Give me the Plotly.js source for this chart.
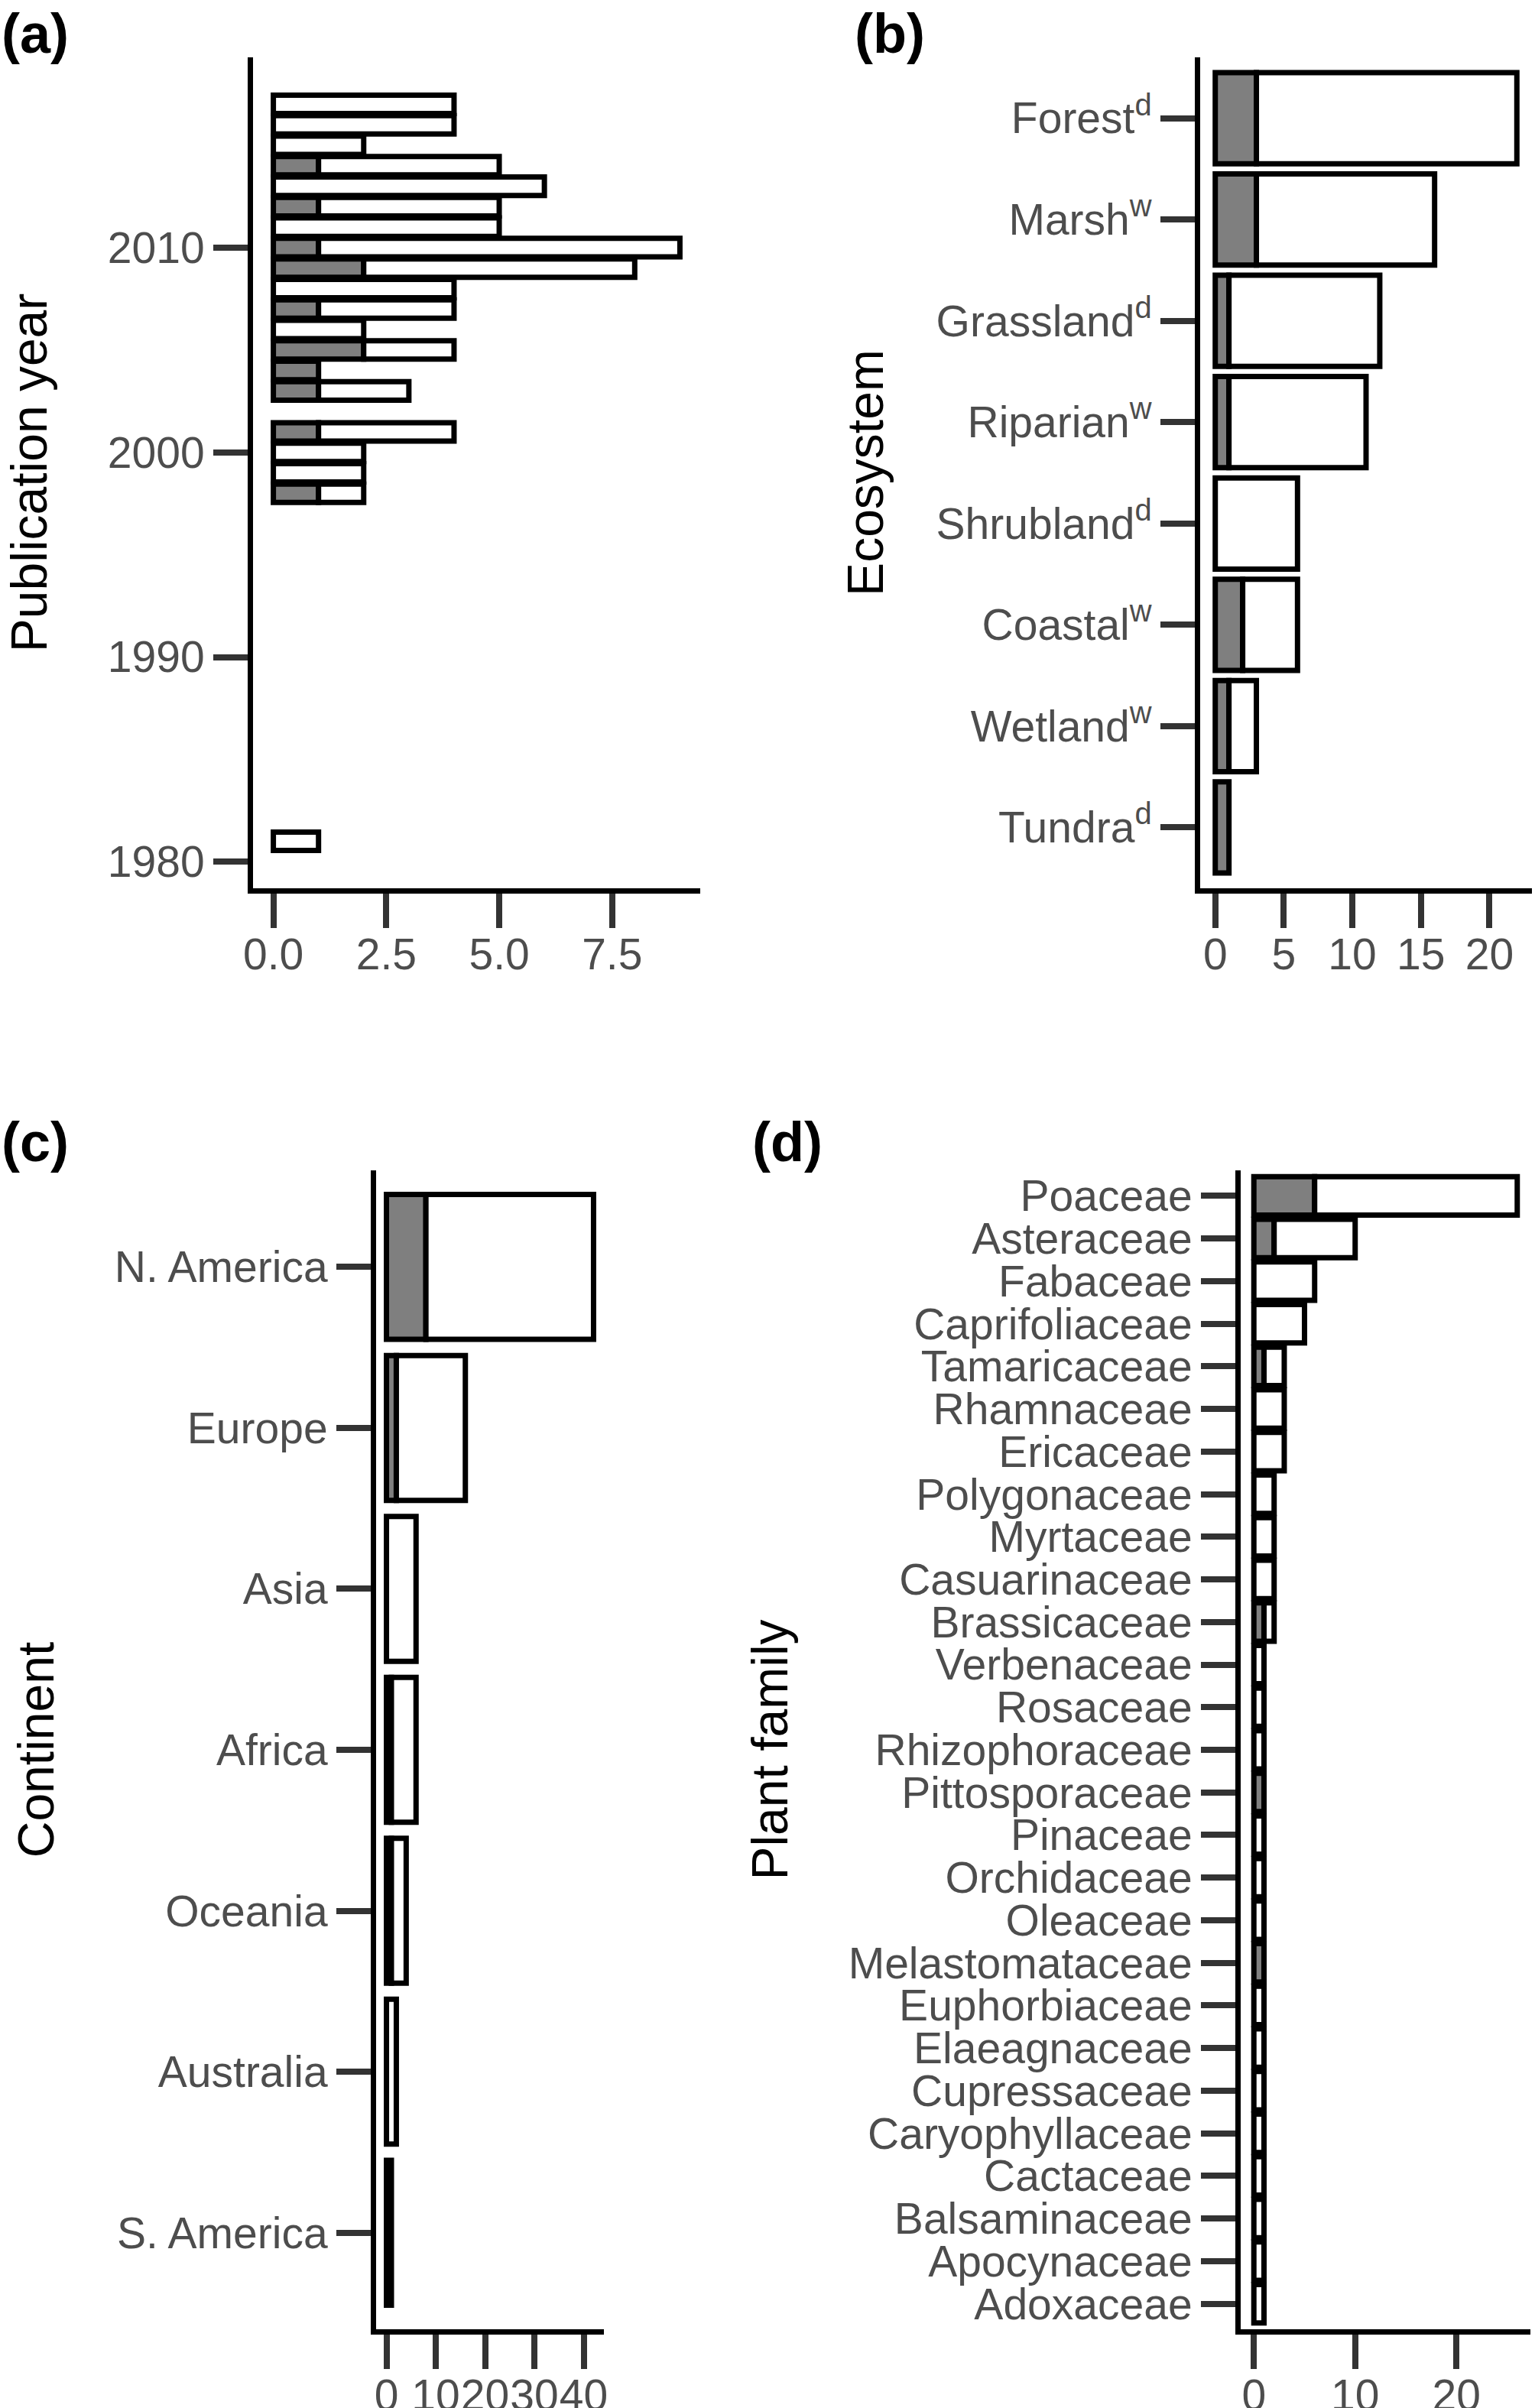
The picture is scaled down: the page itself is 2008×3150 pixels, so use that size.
<!DOCTYPE html>
<html><head><meta charset="utf-8">
<script src="https://cdn.plot.ly/plotly-3.0.1.min.js"></script>
<style>html,body{margin:0;padding:0;background:#fff}</style>
</head><body><div id="chart" style="width:2008px;height:3150px"></div>
<script>
// ---------- data ----------
// (a) publication year
const years = [1981,1998,1999,2000,2001,2003,2004,2005,2006,2007,2008,2009,2010,2011,2012,2013,2014,2015,2016,2017];
const yearGray  = [0,1,0,0,1,1,1,2,0,1,0,2,1,0,1,0,1,0,0,0];
const yearWhite = [1,1,2,2,3,2,0,2,2,3,4,6,8,5,4,6,4,2,4,4];
const yearTicks = [1980,1990,2000,2010];
const yearTickLabels = ['1980','1990','2000','2010'];
const countTicksA = [0,2.5,5,7.5];
const countTickLabelsA = ['0.0','2.5','5.0','7.5'];

// (b) ecosystem
const ecosystems = ['Forest','Marsh','Grassland','Riparian','Shrubland','Coastal','Wetland','Tundra'];
const ecoType    = ['d','w','d','w','d','w','w','d'];
const ecoGray    = [3,3,1,1,0,2,1,1];
const ecoWhite   = [19,13,11,10,6,4,2,0];
const countTicksB = [0,5,10,15,20];

// (c) continent
const continents = ['N. America','Europe','Asia','Africa','Oceania','Australia','S. America'];
const contGray   = [8,2,0,1,1,0,1];
const contWhite  = [34,14,6,5,3,2,0];
const countTicksC = [0,10,20,30,40];

// (d) plant family
const families = ['Poaceae','Asteraceae','Fabaceae','Caprifoliaceae','Tamaricaceae','Rhamnaceae','Ericaceae',
  'Polygonaceae','Myrtaceae','Casuarinaceae','Brassicaceae','Verbenaceae','Rosaceae','Rhizophoraceae',
  'Pittosporaceae','Pinaceae','Orchidaceae','Oleaceae','Melastomataceae','Euphorbiaceae','Elaeagnaceae',
  'Cupressaceae','Caryophyllaceae','Cactaceae','Balsaminaceae','Apocynaceae','Adoxaceae'];
const famGray  = [6,2,0,0,1,0,0,0,0,0,1,0,0,0,1,0,0,0,1,0,0,0,0,0,0,0,0];
const famWhite = [20,8,6,5,2,3,3,2,2,2,1,1,1,1,0,1,1,1,0,1,1,1,1,1,1,1,1];
const countTicksD = [0,10,20];

// ---------- style ----------
const W = 2008, H = 3150;
const FONT = 'Liberation Sans, Arial, Helvetica, sans-serif';
const GRAY = '#7F7F7F';
const LINE = {color:'#000000', width:7};
const nz = a => a.map(v => v === 0 ? null : v);
const px = x => x / W;
const py = y => 1 - y / H;

function xAxis(dom, range, ticks, labels, anchor){
  return {domain:[px(dom[0]), px(dom[1])], range:range, anchor:anchor,
    tickmode:'array', tickvals:ticks, ticktext:labels || ticks.map(String), tickangle:0, ticklabelstandoff:-14,
    showline:true, linecolor:'#000', linewidth:7, ticks:'outside', ticklen:45, tickwidth:8, tickcolor:'#333333',
    tickfont:{family:FONT, size:57, color:'#4D4D4D'}, showgrid:false, zeroline:false, fixedrange:true};
}
function yAxis(dom, range, ticks, labels, anchor, title, standoff){
  return {domain:[py(dom[1]), py(dom[0])], range:range, anchor:anchor,
    tickmode:'array', tickvals:ticks, ticktext:labels,
    showline:true, linecolor:'#000', linewidth:7, ticks:'outside', ticklen:45, tickwidth:8, tickcolor:'#333333',
    tickfont:{family:FONT, size:57, color:'#4D4D4D'}, showgrid:false, zeroline:false, fixedrange:true,
    title:{text:title, font:{family:FONT, size:66, color:'#000'}, standoff:standoff}};
}
function bars(yv, g, w, xa, ya){
  return [
    {type:'bar', orientation:'h', y:yv, x:nz(g), width:0.9, xaxis:xa, yaxis:ya,
     marker:{color:GRAY, line:LINE}, showlegend:false, hoverinfo:'skip'},
    {type:'bar', orientation:'h', y:yv, x:nz(w), base:g, width:0.9, xaxis:xa, yaxis:ya,
     marker:{color:'#FFFFFF', line:LINE}, showlegend:false, hoverinfo:'skip'}
  ];
}
const idx = n => Array.from({length:n}, (_, i) => i);

const topRow = [75, 1162], botRow = [1531, 3047];
const maxA = Math.max(...years.map((_, i) => yearGray[i] + yearWhite[i]));
const maxB = Math.max(...ecoGray.map((v, i) => v + ecoWhite[i]));
const maxC = Math.max(...contGray.map((v, i) => v + contWhite[i]));
const maxD = Math.max(...famGray.map((v, i) => v + famWhite[i]));
const yrLo = Math.min(...years) - 0.45, yrHi = Math.max(...years) + 0.45, yrPad = 0.05 * (yrHi - yrLo);

const data = [].concat(
  bars(years, yearGray, yearWhite, 'x', 'y'),
  bars(idx(ecosystems.length), ecoGray, ecoWhite, 'x2', 'y2'),
  bars(idx(continents.length), contGray, contWhite, 'x3', 'y3'),
  bars(idx(families.length), famGray, famWhite, 'x4', 'y4')
);

const layout = {
  width:W, height:H, margin:{l:0, r:0, t:0, b:0}, paper_bgcolor:'#fff', plot_bgcolor:'#fff',
  barmode:'overlay', bargap:0, font:{family:FONT},
  xaxis:  xAxis([331, 916], [-0.05*maxA, 1.05*maxA], countTicksA, countTickLabelsA, 'y'),
  yaxis:  yAxis(topRow, [yrLo - yrPad, yrHi + yrPad], yearTicks, yearTickLabels, 'x', 'Publication year', 60),
  xaxis2: xAxis([1570, 2004], [-0.05*maxB, 1.05*maxB], countTicksB, null, 'y2'),
  yaxis2: yAxis(topRow, [ecosystems.length - 0.4, -0.6], idx(ecosystems.length),
            ecosystems.map((e, i) => e + '<sup>' + ecoType[i] + '</sup>'), 'x2', 'Ecosystem', 50),
  xaxis3: xAxis([492, 790], [-0.05*maxC, 1.05*maxC], countTicksC, null, 'y3'),
  yaxis3: yAxis(botRow, [continents.length - 0.4, -0.6], idx(continents.length), continents, 'x3', 'Continent', 60),
  xaxis4: xAxis([1623, 2002], [-0.05*maxD, 1.05*maxD], countTicksD, null, 'y4'),
  yaxis4: yAxis(botRow, [families.length - 0.4, -0.6], idx(families.length), families, 'x4', 'Plant family', 60),
  annotations: [
    {text:'<b>(a)</b>', x:px(0), y:py(44)},
    {text:'<b>(b)</b>', x:px(1116), y:py(44)},
    {text:'<b>(c)</b>', x:px(0), y:py(1494)},
    {text:'<b>(d)</b>', x:px(982), y:py(1494)}
  ].map(a => Object.assign(a, {xref:'paper', yref:'paper', xanchor:'left', yanchor:'middle',
        showarrow:false, font:{family:FONT, size:72, color:'#000'}}))
};

Plotly.newPlot('chart', data, layout, {staticPlot:true, displayModeBar:false});
</script></body></html>
